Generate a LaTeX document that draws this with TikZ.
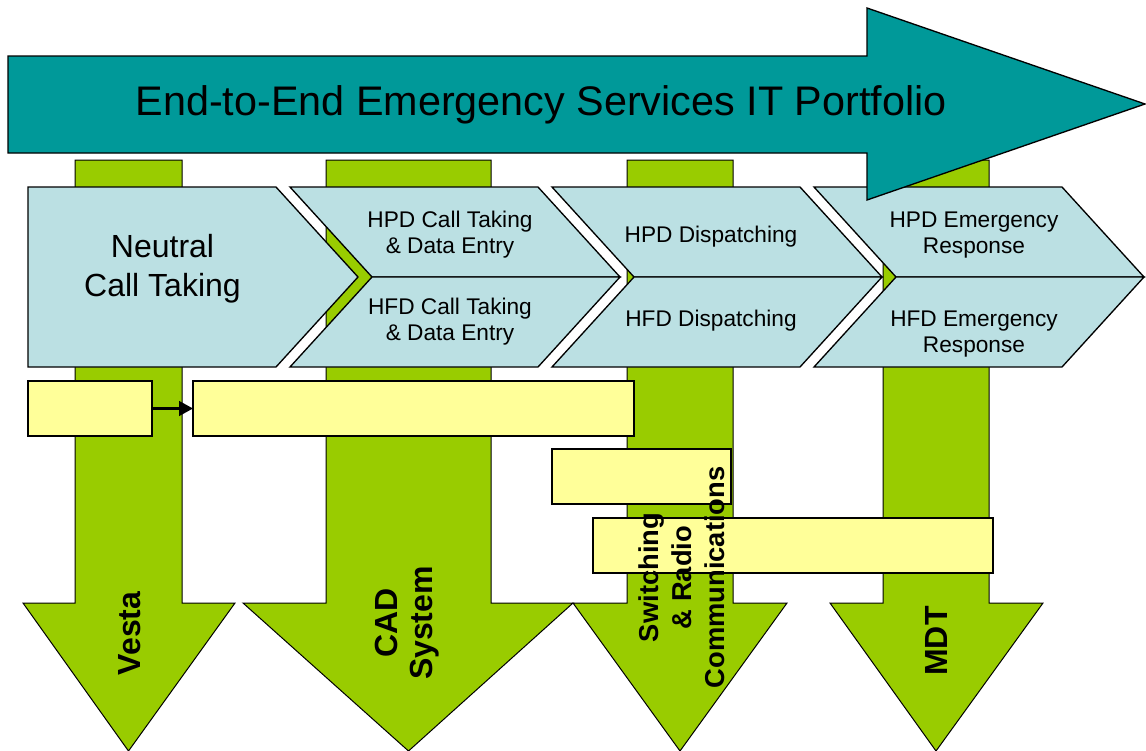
\documentclass[tikz,border=0pt]{standalone}
\usepackage{fontspec}
\setmainfont{Liberation Sans}
\usetikzlibrary{arrows.meta}
\definecolor{tealc}{HTML}{009999}
\definecolor{grn}{HTML}{99CC00}
\definecolor{lblue}{HTML}{BBE0E3}
\definecolor{ylw}{HTML}{FFFF99}
\tikzset{
 greenarrow/.style={fill=grn,draw=black,line width=0.75pt,line join=miter},
 chev/.style={fill=lblue,draw=black,line width=1pt,line join=miter},
 bigarrow/.style={fill=tealc,draw=black,line width=1pt,line join=miter},
 ybox/.style={fill=ylw,draw=black,line width=1pt,inner sep=0pt,outer sep=0pt,minimum height=55*0.75pt},
 ctext/.style={font=\fontsize{17}{19.5}\selectfont,align=center,inner sep=0pt},
 stext/.style={font=\fontsize{17}{19.5}\selectfont,inner sep=0pt},
 vlabel/.style={font=\bfseries\fontsize{24}{26.25}\selectfont,rotate=90,align=center,inner sep=0pt},
 conn/.style={line width=1.9pt,-{Triangle[length=10.5pt,width=11pt]}},
}
\begin{document}
\begin{tikzpicture}[x=0.75pt,y=-0.75pt]
\useasboundingbox (0,0) rectangle (1146,750);
% green down arrows
\draw[greenarrow] (75,160) -- (182,160) -- (182,603) -- (235,603) -- (128.5,751) -- (23,603) -- (75,603) -- cycle;
\draw[greenarrow] (326,160) -- (491,160) -- (491,603) -- (573,603) -- (408.5,751) -- (243,603) -- (326,603) -- cycle;
\draw[greenarrow] (627,160) -- (733,160) -- (733,603) -- (787,603) -- (680,751) -- (573,603) -- (627,603) -- cycle;
\draw[greenarrow] (883,160) -- (989,160) -- (989,603) -- (1043,603) -- (936,751) -- (830,603) -- (883,603) -- cycle;
% chevrons
\draw[chev] (28,187) -- (276,187) -- (358,277) -- (276,367) -- (28,367) -- cycle;
\draw[chev] (290,187) -- (538,187) -- (620,277) -- (372,277) -- cycle;
\draw[chev] (372,277) -- (620,277) -- (538,367) -- (290,367) -- cycle;
\draw[chev] (552,187) -- (800,187) -- (882,277) -- (634,277) -- cycle;
\draw[chev] (634,277) -- (882,277) -- (800,367) -- (552,367) -- cycle;
\draw[chev] (814,187) -- (1062,187) -- (1144,277) -- (896,277) -- cycle;
\draw[chev] (896,277) -- (1144,277) -- (1062,367) -- (814,367) -- cycle;
% big teal arrow
\draw[bigarrow] (8,56) -- (867,56) -- (867,8) -- (1145,104) -- (867,200) -- (867,153) -- (8,153) -- cycle;
\node[font=\fontsize{31}{37}\selectfont,anchor=base,inner sep=0pt] (title) at (541,115) {End-to-End Emergency Services IT Portfolio};
% chevron texts
\node[ctext,font=\fontsize{24}{29.25}\selectfont] (nct) at (162.5,268.4) {Neutral\\Call Taking};
\node[ctext] (hpdct) at (450,234.3) {HPD Call Taking\\\& Data Entry};
\node[ctext] (hfdct) at (450,321.8) {HFD Call Taking\\\& Data Entry};
\node[stext] (hpddisp) at (711,236.3) {HPD Dispatching};
\node[stext] (hfddisp) at (711,320.3) {HFD Dispatching};
\node[ctext] (hpder) at (974,234.8) {HPD Emergency\\Response};
\node[ctext] (hfder) at (974,333.8) {HFD Emergency\\Response};
% yellow boxes
\node[ybox,minimum width=124*0.75pt] (ya) at (90,408.5) {};
\node[ybox,minimum width=441*0.75pt] (yb) at (413.5,408.5) {};
\node[ybox,minimum width=179*0.75pt] (yc) at (641.5,476.5) {};
\node[ybox,minimum width=400*0.75pt] (yd) at (793,545.5) {};
\draw[conn] (ya.east) -- (yb.west);
% vertical labels
\node[vlabel] (vesta) at (129.5,633.5) {Vesta};
\node[vlabel] (cad) at (407,623) {CAD\\System};
\node[vlabel,font=\bfseries\fontsize{20.5}{25}\selectfont] (switch) at (681.8,577.5) {Switching\\\& Radio\\Communications};
\node[vlabel] (mdt) at (936.5,641) {MDT};
\end{tikzpicture}
\end{document}
